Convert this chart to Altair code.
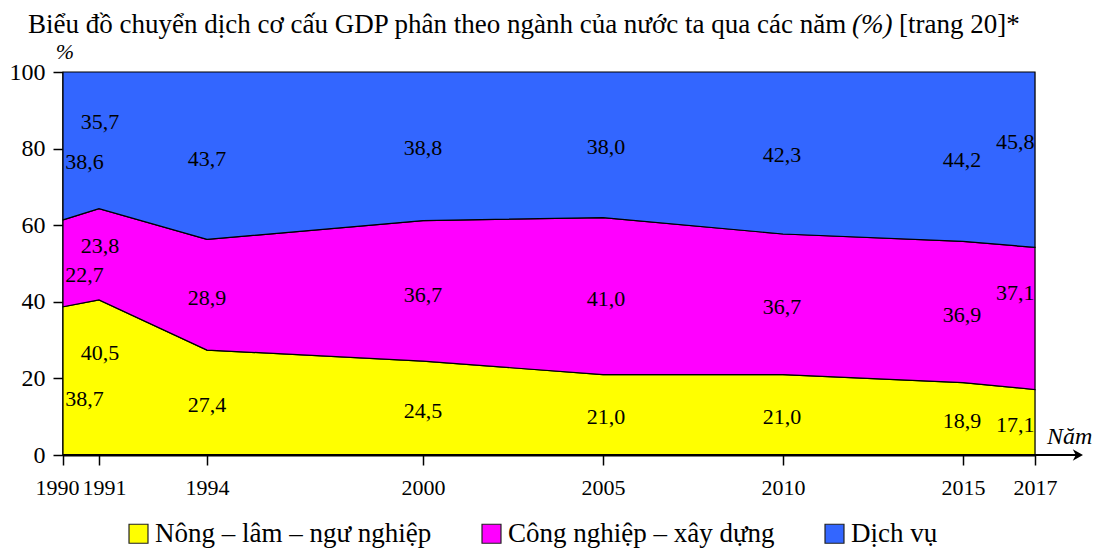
import altair as alt
import pandas as pd

# ---------------- data ----------------
years = [1990, 1991, 1994, 2000, 2005, 2010, 2015, 2017]
series = ["Nông – lâm – ngư nghiệp", "Công nghiệp – xây dựng", "Dịch vụ"]
nong = [38.7, 40.5, 27.4, 24.5, 21.0, 21.0, 18.9, 17.1]
cong = [22.7, 23.8, 28.9, 36.7, 41.0, 36.7, 36.9, 37.1]
dich = [38.6, 35.7, 43.7, 38.8, 38.0, 42.3, 44.2, 45.8]
colors = ["#FFFF00", "#FF00FF", "#3366FF"]
y_ticks = [0, 20, 40, 60, 80, 100]

# label anchors (in data units)
label_years = [1990.6, 1991.03, 1994, 2000, 2005.08, 2009.97, 2014.97, 2016.45]
nong_label_y = [14.6, 26.7, 13.1, 11.6, 10.0, 10.0, 8.9, 7.8]
cong_label_y = [47.0, 54.6, 41.0, 41.8, 40.7, 38.6, 36.6, 42.4]
dich_label_y = [76.6, 87.0, 77.3, 80.2, 80.5, 78.3, 77.0, 81.8]

title_main = "Biểu đồ chuyển dịch cơ cấu GDP phân theo ngành của nước ta qua các năm"
title_unit = "(%)"
title_ref = "[trang 20]*"

FONT = "Liberation Serif"
W, H = 972, 383

# ---------------- tables ----------------
rows = []
vals = [nong, cong, dich]
for i, s in enumerate(series):
    for j, yr in enumerate(years):
        lo = sum(v[j] for v in vals[:i])
        rows.append({"year": yr, "series": s, "lo": lo, "hi": lo + vals[i][j], "ord": i})
area_df = pd.DataFrame(rows)

lab_rows = []
for s, v, ly in zip(series, vals, [nong_label_y, cong_label_y, dich_label_y]):
    for x, val, y in zip(label_years, v, ly):
        lab_rows.append({"x": x, "y": y, "txt": f"{val:.1f}".replace(".", ",")})
lab_df = pd.DataFrame(lab_rows)

xscale = alt.Scale(domain=[1990, 2017], nice=False, zero=False)
yscale = alt.Scale(domain=[0, 100], nice=False)

areas = alt.Chart(area_df).mark_area(
    stroke="black", strokeWidth=1.2, interpolate="linear"
).encode(
    x=alt.X("year:Q", scale=xscale, axis=alt.Axis(
        values=years, format="d", title=None, grid=False,
        domainColor="black", domainWidth=2,
        tickColor="black", tickSize=10, tickWidth=1.5,
        labelFont=FONT, labelFontSize=22, labelColor="black",
        labelPadding=12, labelOverlap=False, labelFlush=False,
        labelOffset=alt.expr("datum.value == 1990 ? -6 : (datum.value == 1991 ? 5 : 0)"),
    )),
    y=alt.Y("hi:Q", scale=yscale, axis=alt.Axis(
        values=y_ticks, title=None, grid=False,
        domainColor="black", domainWidth=2.5,
        tickColor="black", tickSize=10, tickWidth=1.5,
        labelFont=FONT, labelFontSize=24, labelColor="black", labelPadding=8,
    )),
    y2="lo:Q",
    color=alt.Color("series:N", scale=alt.Scale(domain=series, range=colors),
                    legend=alt.Legend(
                        title=None, orient="none", legendX=62, legendY=448,
                        direction="horizontal", columns=3,
                        symbolType="square", symbolSize=360,
                        symbolStrokeColor="#222222", symbolStrokeWidth=1.2,
                        symbolOpacity=1,
                        labelFont=FONT, labelFontSize=27, labelColor="black",
                        labelOffset=3, columnPadding=46, labelLimit=500,
                    )),
    order="ord:Q",
)

labels = alt.Chart(lab_df).mark_text(
    font=FONT, fontSize=22, color="black", align="center", baseline="middle"
).encode(x=alt.X("x:Q", scale=xscale), y=alt.Y("y:Q", scale=yscale), text="txt:N")

one = alt.Data(values=[{"a": 1}])

axis_ext = alt.Chart(one).mark_rule(color="black", strokeWidth=2).encode(
    x=alt.value(0), x2=alt.value(1018), y=alt.value(H)
)
arrow = alt.Chart(one).mark_point(
    shape="M0,0L-1,-0.55L-0.7,0L-1,0.55Z", filled=True, color="black",
    size=420, opacity=1
).encode(x=alt.value(1020), y=alt.value(H))

nam = alt.Chart(one).mark_text(
    text="Năm", font=FONT, fontSize=24, fontStyle="italic", align="left",
    baseline="middle", color="black"
).encode(x=alt.value(984), y=alt.value(H - 18))

pct = alt.Chart(one).mark_text(
    text="%", font=FONT, fontSize=22, fontStyle="italic", align="center",
    baseline="middle", color="black"
).encode(x=alt.value(2), y=alt.value(-20))

t1 = alt.Chart(one).mark_text(
    text=title_main, font=FONT, fontSize=27, align="left",
    baseline="alphabetic", color="black"
).encode(x=alt.value(-35), y=alt.value(-39))
t2 = alt.Chart(one).mark_text(
    text=title_unit, font=FONT, fontSize=27, fontStyle="italic", align="left",
    baseline="alphabetic", color="black"
).encode(x=alt.value(789), y=alt.value(-39))
t3 = alt.Chart(one).mark_text(
    text=title_ref, font=FONT, fontSize=27, align="left",
    baseline="alphabetic", color="black"
).encode(x=alt.value(836), y=alt.value(-39))

chart = alt.layer(areas, labels, axis_ext, arrow, nam, pct, t1, t2, t3).properties(
    width=W, height=H,
    autosize=alt.AutoSizeParams(type="none"),
    padding={"left": 55, "top": 64, "right": 60, "bottom": 100},
).configure_view(stroke=None).configure(background="white")

chart.save("out.html", embed_options={"renderer": "svg", "actions": False})
